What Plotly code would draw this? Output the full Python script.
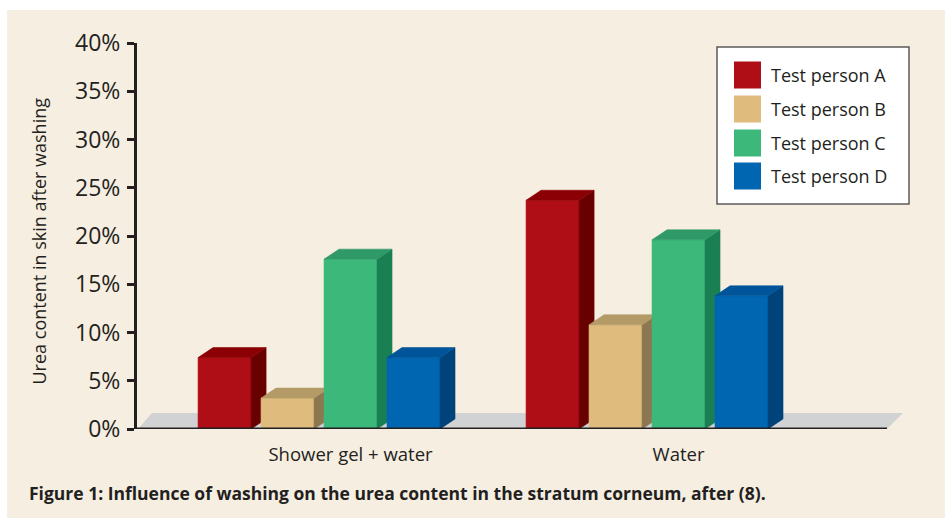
import plotly.graph_objects as go

# ---- data -------------------------------------------------------------
categories = ["Shower gel + water", "Water"]
series_names = ["Test person A", "Test person B", "Test person C", "Test person D"]
values_a = [7.4, 23.7]
values_b = [3.2, 10.8]
values_c = [17.6, 19.6]
values_d = [7.4, 13.8]
y_tick_values = [0, 5, 10, 15, 20, 25, 30, 35, 40]
y_tick_labels = ["0%", "5%", "10%", "15%", "20%", "25%", "30%", "35%", "40%"]

series_values = [values_a, values_b, values_c, values_d]

# ---- styling ----------------------------------------------------------
FRONT = ["#b00e17", "#dfbb7e", "#3cb97a", "#0066b2"]
SIDE = ["#680000", "#8c7750", "#1a7f52", "#00427a"]
TOP = ["#8b0005", "#b39a67", "#2f9a67", "#00559a"]
INK = "#231f20"
PANEL = "#f6eee0"
FLOOR = "#d1d2d4"
FONT = "Open Sans"

FIG_W, FIG_H = 945, 519
M_L, M_R, M_T, M_B = 137, 35, 43, 90
PLOT_W = FIG_W - M_L - M_R
PLOT_H = FIG_H - M_T - M_B
Y_RANGE = [0, 40]
X_RANGE = [-0.555, -0.555 + PLOT_W / 328.0]

px_per_x = PLOT_W / (X_RANGE[1] - X_RANGE[0])
px_per_y = PLOT_H / (Y_RANGE[1] - Y_RANGE[0])

SLOT = 0.192          # distance between neighbouring bars (category units)
BAR_W = 0.1616        # width of a bar's front face
DEPTH_DX = 15 / px_per_x   # receding depth of the 3-D bars
DEPTH_DY = 10 / px_per_y
LABEL_SHIFT = 0.096   # category labels sit under the centre of the boxes


def px_x(p):
    """figure pixel -> paper x"""
    return (p - M_L) / PLOT_W


def px_y(p):
    """figure pixel -> paper y"""
    return (FIG_H - M_B - p) / PLOT_H


def polys(points_list):
    xs, ys = [], []
    for pts in points_list:
        for x, y in pts + [pts[0]]:
            xs.append(x)
            ys.append(y)
        xs.append(None)
        ys.append(None)
    return xs, ys


fig = go.Figure()

n_series = len(series_values)
for j, vals in enumerate(series_values):
    fronts, sides, tops = [], [], []
    for i, v in enumerate(vals):
        xc = i + (j - (n_series - 1) / 2) * SLOT
        x0, x1 = xc - BAR_W / 2, xc + BAR_W / 2
        fronts.append([(x0, 0), (x1, 0), (x1, v), (x0, v)])
        sides.append([(x1, 0), (x1 + DEPTH_DX, DEPTH_DY),
                      (x1 + DEPTH_DX, v + DEPTH_DY), (x1, v)])
        tops.append([(x0, v), (x1, v), (x1 + DEPTH_DX, v + DEPTH_DY),
                     (x0 + DEPTH_DX, v + DEPTH_DY)])
    for shapes_, color in ((fronts, FRONT[j]), (sides, SIDE[j]), (tops, TOP[j])):
        xs, ys = polys(shapes_)
        fig.add_trace(go.Scatter(
            x=xs, y=ys, mode="lines", fill="toself", fillcolor=color,
            line=dict(color=color, width=0.6), name=series_names[j],
            showlegend=False, hoverinfo="skip"))

shapes = []
# beige panel
shapes.append(dict(type="rect", xref="paper", yref="paper", layer="below",
                   x0=px_x(7), x1=px_x(946), y0=px_y(518), y1=px_y(10),
                   fillcolor=PANEL, line=dict(width=0)))
# grey floor of the 3-D chart
floor_pts = [(138, 429), (887, 429), (903, 413), (152, 413)]
path = "M " + " L ".join(f"{px_x(a):.5f},{px_y(b):.5f}" for a, b in floor_pts) + " Z"
shapes.append(dict(type="path", xref="paper", yref="paper", layer="below",
                   path=path, fillcolor=FLOOR, line=dict(width=0)))
# category axis line
shapes.append(dict(type="line", xref="paper", yref="y", layer="above",
                   x0=px_x(135), x1=px_x(887), y0=0, y1=0,
                   line=dict(color=INK, width=3)))

# legend box
shapes.append(dict(type="rect", xref="paper", yref="paper", layer="above",
                   x0=px_x(717), x1=px_x(909), y0=px_y(204), y1=px_y(47),
                   fillcolor="white", line=dict(color="#5e5a5a", width=1.5)))
annotations = []
row_centres = [75, 109, 143, 176]
for j, name in enumerate(series_names):
    cy = row_centres[j]
    shapes.append(dict(type="rect", xref="paper", yref="paper", layer="above",
                       x0=px_x(734), x1=px_x(761), y0=px_y(cy + 13.5), y1=px_y(cy - 13.5),
                       fillcolor=FRONT[j], line=dict(width=0)))
    annotations.append(dict(xref="paper", yref="paper", x=px_x(769), y=px_y(cy),
                            xanchor="left", yanchor="middle", showarrow=False,
                            text=name, font=dict(family=FONT, size=18, color=INK)))

# y-axis title
annotations.append(dict(xref="paper", yref="paper", x=px_x(38), y=px_y(240.5),
                        xanchor="center", yanchor="middle", showarrow=False,
                        textangle=-90, text="Urea content in skin after washing",
                        font=dict(family=FONT, size=18, color=INK)))
# figure caption
annotations.append(dict(xref="paper", yref="paper", x=px_x(27), y=px_y(493),
                        xanchor="left", yanchor="middle", showarrow=False,
                        text="<b>Figure 1: Influence of washing on the urea content in the stratum corneum, after (8).</b>",
                        font=dict(family=FONT, size=17.5, color=INK)))

fig.update_layout(
    width=FIG_W, height=FIG_H,
    margin=dict(l=M_L, r=M_R, t=M_T, b=M_B, pad=0),
    paper_bgcolor="white", plot_bgcolor="rgba(0,0,0,0)",
    showlegend=False,
    shapes=shapes, annotations=annotations,
    xaxis=dict(range=X_RANGE, showgrid=False, zeroline=False, showline=False,
               ticks="", tickmode="array",
               tickvals=[i + LABEL_SHIFT for i in range(len(categories))],
               ticktext=categories, ticklabelstandoff=12,
               tickfont=dict(family=FONT, size=18.5, color=INK), fixedrange=True),
    yaxis=dict(range=Y_RANGE, showgrid=False, zeroline=False, showline=True,
               linecolor=INK, linewidth=3, ticks="outside", ticklen=7,
               tickwidth=3, tickcolor=INK, tickmode="array",
               tickvals=y_tick_values, ticktext=y_tick_labels,
               ticklabelstandoff=2,
               tickfont=dict(family=FONT, size=23, color=INK), fixedrange=True),
)

fig.write_html("out.html")
